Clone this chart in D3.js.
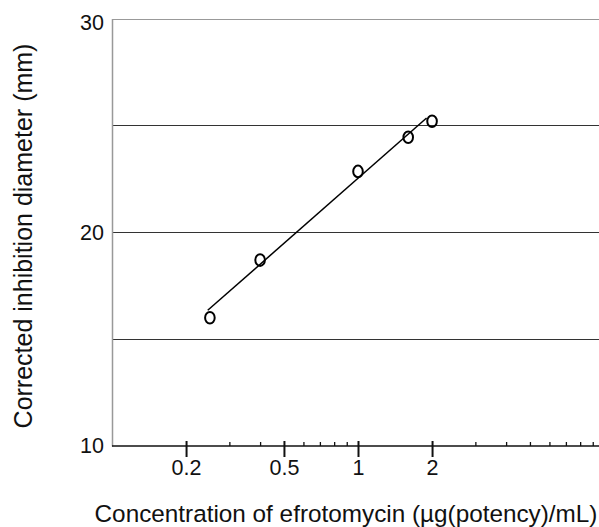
<!DOCTYPE html>
<html>
<head>
<meta charset="utf-8">
<script src="https://cdn.jsdelivr.net/npm/d3@7"></script>
<style>
  body { margin: 0; background: #fff; }
  svg { display: block; font-family: "Liberation Sans", Arial, sans-serif; }
</style>
</head>
<body>
<div id="chart"></div>
<script>
// measured points
let concentrations = [0.25, 0.4, 1.0, 1.6, 2.0];
let diameters = [16.0, 18.7, 22.85, 24.45, 25.2];
// fitted line end points
let fitX = [0.245, 1.9];
let fitY = [16.35, 25.35];
let yTicks = [10, 20, 30];
let yGrid = [15, 20, 25, 30];
let xMajor = [0.2, 0.5, 1, 2];
let xMinor = [0.3, 0.4, 0.6, 0.7, 0.8, 0.9, 3, 4, 5, 6, 7, 8, 9];

let width = 599;
let height = 527;
let font = '"Liberation Sans", Arial, sans-serif';

let svg = d3.select("#chart")
    .append('svg')
    .attr('width', width)
    .attr('height', height);

let x = d3.scaleLog()
    .domain([0.1, 10])
    .range([112, 604]);
let y = d3.scaleLinear()
    .domain([10, 30])
    .range([446, 18.6]);

// horizontal grid
svg.append('g')
    .attr('class', 'grid')
    .selectAll('line')
    .data(yGrid)
    .enter()
    .append('line')
    .attr('x1', x(0.1))
    .attr('x2', width)
    .attr('y1', d => Math.round(y(d)) + 0.5)
    .attr('y2', d => Math.round(y(d)) + 0.5)
    .attr('stroke', d => d === 30 ? '#999' : '#333')
    .attr('stroke-width', 1);

// y axis
let yAxis = svg.append('g')
    .attr('transform', 'translate(' + x(0.1) + ',0)')
    .call(d3.axisLeft(y).tickValues(yTicks).tickSize(0).tickPadding(8));
yAxis.select('.domain').attr('stroke', '#999').attr('stroke-width', 1.5);
yAxis.selectAll('.tick text')
    .attr('font-size', 21.5)
    .attr('fill', '#111')
    .attr('font-family', font)
    .attr('dy', d => d === 30 ? '0.5em' : '0.32em');

// x axis: minor ticks point up, major ticks cross the line
let xAxisG = svg.append('g')
    .attr('transform', 'translate(0,' + y(10) + ')');
xAxisG.append('g')
    .call(d3.axisTop(x).tickValues(xMinor).tickSize(4).tickFormat(''))
    .call(g => g.select('.domain').remove())
    .selectAll('.tick line').attr('stroke', '#111').attr('stroke-width', 1.3);
let major = xAxisG.append('g')
    .call(d3.axisBottom(x).tickValues(xMajor).tickSize(11).tickPadding(3).tickFormat(d3.format('')));
major.select('.domain').remove();
major.selectAll('.tick line').attr('y1', -5).attr('stroke', '#111').attr('stroke-width', 2);
major.selectAll('.tick text')
    .attr('font-size', 21.5)
    .attr('fill', '#111')
    .attr('font-family', font);
xAxisG.append('line')
    .attr('x1', x(0.1))
    .attr('x2', width)
    .attr('stroke', '#111')
    .attr('stroke-width', 1.5);

// axis titles
svg.append('text')
    .attr('x', 346)
    .attr('y', 522)
    .attr('text-anchor', 'middle')
    .attr('font-size', 24.3)
    .attr('fill', '#111')
    .text('Concentration of efrotomycin (µg(potency)/mL)');
svg.append('text')
    .attr('transform', 'translate(32,' + 236 + ') rotate(-90)')
    .attr('text-anchor', 'middle')
    .attr('font-size', 25)
    .attr('fill', '#111')
    .text('Corrected inhibition diameter (mm)');

// fitted line
svg.append('line')
    .attr('x1', x(fitX[0]))
    .attr('y1', y(fitY[0]))
    .attr('x2', x(fitX[1]))
    .attr('y2', y(fitY[1]))
    .attr('stroke', '#000')
    .attr('stroke-width', 1.5);

// data points
svg.append('g')
    .attr('class', 'points')
    .selectAll('ellipse')
    .data(concentrations)
    .enter()
    .append('ellipse')
    .attr('cx', d => x(d))
    .attr('cy', (d, i) => y(diameters[i]))
    .attr('rx', 4.8)
    .attr('ry', 5.8)
    .attr('fill', 'none')
    .attr('stroke', '#000')
    .attr('stroke-width', 2);
</script>
</body>
</html>
